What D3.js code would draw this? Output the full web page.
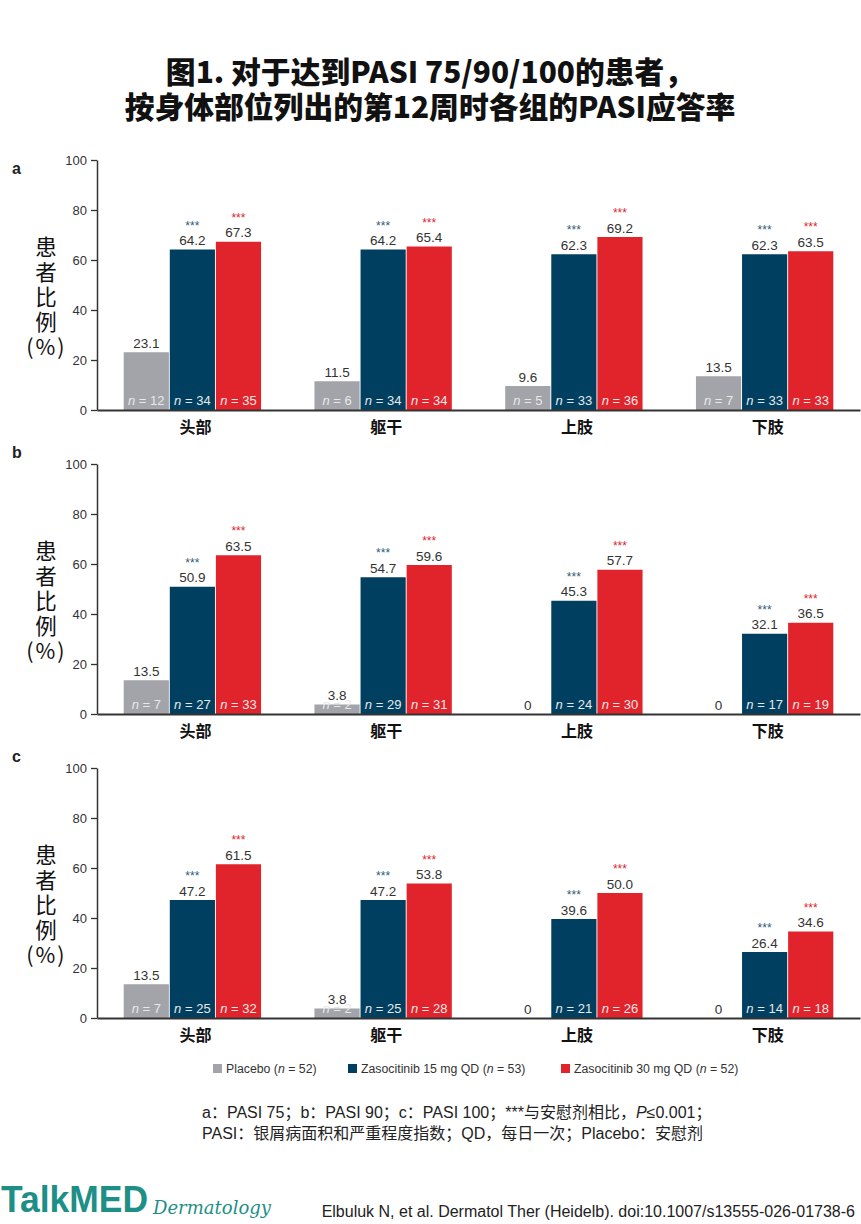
<!DOCTYPE html>
<html>
<head>
<meta charset="utf-8">
<script src="https://cdn.jsdelivr.net/npm/d3@7"></script>
<style>
  body { margin: 0; background: #fff; }
  svg { display: block; }
  .num { font-family: "Liberation Sans", Arial, sans-serif; }
  .cjk { font-family: "Noto Sans CJK SC", sans-serif; }
</style>
</head>
<body>
<script>
// categories and groups
const categories = ["头部", "躯干", "上肢", "下肢"];
const groups = ["Placebo", "Zasocitinib 15 mg QD", "Zasocitinib 30 mg QD"];
const groupN = [52, 53, 52];
const colors = ["#a2a4a9", "#003f5f", "#e1242c"];
const yTicks = [0, 20, 40, 60, 80, 100];

// a: PASI 75
const pasi75Placebo = [23.1, 11.5, 9.6, 13.5];
const pasi75Z15 = [64.2, 64.2, 62.3, 62.3];
const pasi75Z30 = [67.3, 65.4, 69.2, 63.5];
const n75Placebo = [12, 6, 5, 7];
const n75Z15 = [34, 34, 33, 33];
const n75Z30 = [35, 34, 36, 33];

// b: PASI 90
const pasi90Placebo = [13.5, 3.8, 0, 0];
const pasi90Z15 = [50.9, 54.7, 45.3, 32.1];
const pasi90Z30 = [63.5, 59.6, 57.7, 36.5];
const n90Placebo = [7, 2, 0, 0];
const n90Z15 = [27, 29, 24, 17];
const n90Z30 = [33, 31, 30, 19];

// c: PASI 100
const pasi100Placebo = [13.5, 3.8, 0, 0];
const pasi100Z15 = [47.2, 47.2, 39.6, 26.4];
const pasi100Z30 = [61.5, 53.8, 50.0, 34.6];
const n100Placebo = [7, 2, 0, 0];
const n100Z15 = [25, 25, 21, 14];
const n100Z30 = [32, 28, 26, 18];

const panels = [
  {label: "a", values: [pasi75Placebo, pasi75Z15, pasi75Z30], ns: [n75Placebo, n75Z15, n75Z30]},
  {label: "b", values: [pasi90Placebo, pasi90Z15, pasi90Z30], ns: [n90Placebo, n90Z15, n90Z30]},
  {label: "c", values: [pasi100Placebo, pasi100Z15, pasi100Z30], ns: [n100Placebo, n100Z15, n100Z30]}
];
const panelTops = [160, 464, 768];
const panelLetterY = [174, 458, 762];

var width = 861;
var height = 1224;
var plotH = 250;

let svg = d3.select('body')
    .append('svg')
        .attr('width', width)
        .attr('height', height);

// title
const title = svg.append('text')
    .attr('class', 'cjk')
    .attr('text-anchor', 'middle')
    .attr('font-size', 29.8)
    .attr('font-weight', 900)
    .attr('fill', '#111');
title.append('tspan').attr('x', 430).attr('y', 83).text('图1. 对于达到PASI 75/90/100的患者，');
title.append('tspan').attr('x', 430).attr('y', 118).text('按身体部位列出的第12周时各组的PASI应答率');

var xScale = d3.scaleBand()
    .domain(categories)
    .range([97, 860])
    .paddingInner(0.28)
    .paddingOuter(0.14);

var xInner = d3.scaleBand()
    .domain(d3.range(groups.length))
    .range([0, xScale.bandwidth()])
    .paddingInner(0.02);

var fmt = v => v === 0 ? "0" : v.toFixed(1);

panels.forEach(function(p, pi) {
    var top = panelTops[pi];
    var yScale = d3.scaleLinear()
        .domain([0, 100])
        .range([top + plotH, top]);

    var g = svg.append('g');

    // panel letter
    g.append('text')
        .attr('class', 'num')
        .attr('x', 12)
        .attr('y', panelLetterY[pi])
        .attr('font-size', 16)
        .attr('font-weight', 'bold')
        .attr('fill', '#222')
        .text(p.label);

    // y axis label, stacked vertically
    var ylab = g.append('text')
        .attr('class', 'cjk')
        .attr('text-anchor', 'middle')
        .attr('font-size', 21.5)
        .attr('fill', '#111');
    ["患", "者", "比", "例"].forEach(function(ch, i) {
        ylab.append('tspan')
            .attr('x', 46)
            .attr('y', top + 95 + i * 25)
            .text(ch);
    });
    // "(%)" split so the parens sit apart like the original
    [["(", 30], ["%", 45.5], [")", 61]].forEach(function(c) {
        ylab.append('tspan')
            .attr('x', c[1])
            .attr('y', top + 195)
            .text(c[0]);
    });

    // bars
    var data = [];
    categories.forEach(function(c, ci) {
        groups.forEach(function(gr, gi) {
            data.push({cat: c, gi: gi, v: p.values[gi][ci], n: p.ns[gi][ci]});
        });
    });

    g.selectAll('.bar')
        .data(data)
        .enter().append('rect')
            .attr('class', 'bar')
            .attr('x', d => xScale(d.cat) + xInner(d.gi))
            .attr('width', xInner.bandwidth())
            .attr('y', d => yScale(d.v))
            .attr('height', d => yScale(0) - yScale(d.v))
            .attr('fill', d => colors[d.gi]);

    // value labels
    g.selectAll('.val')
        .data(data)
        .enter().append('text')
            .attr('class', 'num')
            .attr('text-anchor', 'middle')
            .attr('font-size', 13.5)
            .attr('fill', '#333')
            .attr('x', d => xScale(d.cat) + xInner(d.gi) + xInner.bandwidth() / 2)
            .attr('y', d => yScale(d.v) - 4.5)
            .text(d => fmt(d.v));

    // significance stars
    g.selectAll('.star')
        .data(data.filter(d => d.gi > 0))
        .enter().append('text')
            .attr('class', 'num')
            .attr('text-anchor', 'middle')
            .attr('font-size', 12)
            .attr('fill', d => d.gi === 1 ? '#2f5a7a' : '#e1242c')
            .attr('x', d => xScale(d.cat) + xInner(d.gi) + xInner.bandwidth() / 2)
            .attr('y', d => yScale(d.v) - 20)
            .text('***');

    // n labels
    var nl = g.selectAll('.nlab')
        .data(data.filter(d => d.n > 0))
        .enter().append('text')
            .attr('class', 'num')
            .attr('text-anchor', 'middle')
            .attr('font-size', 13)
            .attr('fill', '#e8e8e8')
            .attr('x', d => xScale(d.cat) + xInner(d.gi) + xInner.bandwidth() / 2)
            .attr('y', yScale(0) - 5);
    nl.append('tspan').attr('font-style', 'italic').text('n');
    nl.append('tspan').text(d => ' = ' + d.n);

    // y axis
    var yAxis = d3.axisLeft(yScale)
        .tickValues(yTicks)
        .tickSize(6)
        .tickSizeOuter(0)
        .tickPadding(4);
    var ya = g.append('g')
        .attr('class', 'y axis')
        .attr('transform', 'translate(97,0)')
        .call(yAxis);
    ya.selectAll('text')
        .attr('class', 'num')
        .attr('font-size', 13)
        .attr('fill', '#333');
    ya.selectAll('line').attr('stroke', '#333').attr('stroke-width', 1.3);
    ya.select('.domain').attr('stroke', '#333').attr('stroke-width', 1.5);

    // x axis
    var xAxis = d3.axisBottom(xScale)
        .tickSize(0)
        .tickSizeOuter(0)
        .tickPadding(12);
    var xa = g.append('g')
        .attr('class', 'x axis')
        .attr('transform', 'translate(0,' + yScale(0) + ')')
        .call(xAxis);
    xa.select('.domain').attr('stroke', '#333').attr('stroke-width', 1.8);
    xa.selectAll('text')
        .attr('class', 'cjk')
        .attr('font-size', 16)
        .attr('font-weight', 'bold')
        .attr('fill', '#111')
        .attr('dx', 3);
});

// legend
const legendX = [213, 348, 561];
const lg = svg.append('g');
groups.forEach(function(gr, i) {
    lg.append('rect')
        .attr('x', legendX[i])
        .attr('y', 1064)
        .attr('width', 9)
        .attr('height', 9)
        .attr('fill', colors[i]);
    var t = lg.append('text')
        .attr('class', 'num')
        .attr('x', legendX[i] + 13)
        .attr('y', 1073)
        .attr('font-size', 12.3)
        .attr('fill', '#333');
    t.append('tspan').text(gr + ' (');
    t.append('tspan').attr('font-style', 'italic').text('n');
    t.append('tspan').text(' = ' + groupN[i] + ')');
});

// footnote
const foot = svg.append('g')
    .attr('font-family', '"Liberation Sans", "Noto Sans CJK SC", sans-serif')
    .attr('font-size', 16)
    .attr('fill', '#222');
const f1 = foot.append('text').attr('x', 202).attr('y', 1118);
f1.append('tspan').text('a：PASI 75；b：PASI 90；c：PASI 100；***与安慰剂相比，');
f1.append('tspan').attr('font-style', 'italic').text('P');
f1.append('tspan').text('≤0.001；');
foot.append('text').attr('x', 202).attr('y', 1139)
    .text('PASI：银屑病面积和严重程度指数；QD，每日一次；Placebo：安慰剂');

// footer
svg.append('text')
    .attr('x', 1)
    .attr('y', 1212)
    .attr('font-family', '"Liberation Sans Narrow", "Liberation Sans", sans-serif')
    .attr('font-weight', 'bold')
    .attr('font-size', 37)
    .attr('textLength', 147)
    .attr('lengthAdjust', 'spacingAndGlyphs')
    .attr('fill', '#1e8f87')
    .text('TalkMED');
svg.append('text')
    .attr('x', 153)
    .attr('y', 1214)
    .attr('font-family', '"DejaVu Serif", serif')
    .attr('font-style', 'italic')
    .attr('font-size', 18)
    .attr('textLength', 118)
    .attr('lengthAdjust', 'spacingAndGlyphs')
    .attr('fill', '#1e8f87')
    .text('Dermatology');
svg.append('text')
    .attr('class', 'num')
    .attr('x', 855)
    .attr('y', 1217)
    .attr('text-anchor', 'end')
    .attr('font-size', 16)
    .attr('fill', '#222')
    .text('Elbuluk N, et al. Dermatol Ther (Heidelb). doi:10.1007/s13555-026-01738-6');
</script>
</body>
</html>
